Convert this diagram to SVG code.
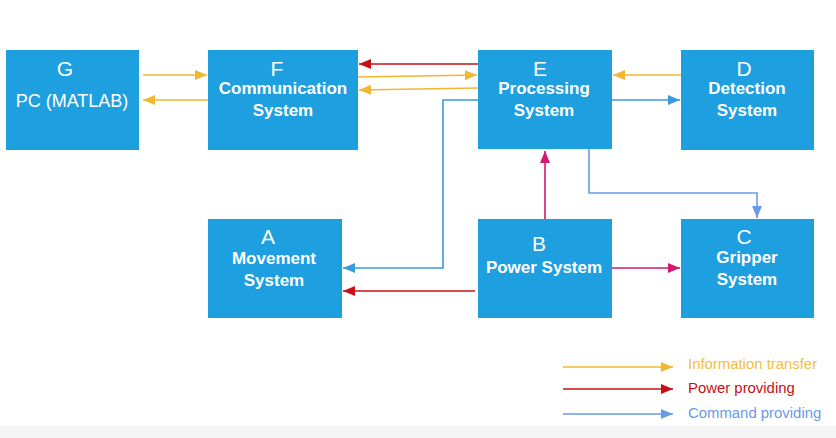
<svg xmlns="http://www.w3.org/2000/svg" width="836" height="438" viewBox="0 0 836 438">
<style>
.box{fill:#1e9fe0}
.t{fill:#fff;font-family:"Liberation Sans",Arial,sans-serif;text-anchor:middle}
.L{font-size:21px}
.n{font-size:17px;font-weight:bold}
.r{font-size:18px}
.c{fill:none;stroke-width:1.6}
.y{stroke:#f2b630}
.rd{stroke:#c80f14}
.m{stroke:#d4176f}
.b{stroke:#3b9ad8}
.lb{stroke:#6a9be6}
.leg{font-family:"Liberation Sans",Arial,sans-serif;font-size:14.9px}
</style>
<defs>
<marker id="ay" markerUnits="userSpaceOnUse" markerWidth="12" markerHeight="10" refX="12" refY="5" orient="auto"><path d="M0,0L12,5L0,10z" fill="#f2b630"/></marker>
<marker id="ar" markerUnits="userSpaceOnUse" markerWidth="12" markerHeight="10" refX="12" refY="5" orient="auto"><path d="M0,0L12,5L0,10z" fill="#c80f14"/></marker>
<marker id="am" markerUnits="userSpaceOnUse" markerWidth="12" markerHeight="10" refX="12" refY="5" orient="auto"><path d="M0,0L12,5L0,10z" fill="#d4176f"/></marker>
<marker id="ab" markerUnits="userSpaceOnUse" markerWidth="12" markerHeight="10" refX="12" refY="5" orient="auto"><path d="M0,0L12,5L0,10z" fill="#3b9ad8"/></marker>
<marker id="alb" markerUnits="userSpaceOnUse" markerWidth="12" markerHeight="10" refX="12" refY="5" orient="auto"><path d="M0,0L12,5L0,10z" fill="#6a9be6"/></marker>
</defs>
<rect x="0" y="0" width="836" height="438" fill="#fff"/>
<rect x="0" y="426" width="836" height="12" fill="#f5f5f5"/>

<g id="nodeG"><rect class="box" x="6" y="50" width="133" height="100"/>
<text class="t L" x="65" y="76">G</text><text class="t r" x="72" y="107">PC (MATLAB)</text></g>
<g id="nodeF"><rect class="box" x="208" y="50" width="150" height="100"/>
<text class="t L" x="277" y="76">F</text><text class="t n" x="283" y="94">Communication</text><text class="t n" x="283" y="116">System</text></g>
<g id="nodeE"><rect class="box" x="478" y="50" width="134" height="99"/>
<text class="t L" x="540" y="76">E</text><text class="t n" x="544" y="94">Processing</text><text class="t n" x="544" y="116">System</text></g>
<g id="nodeD"><rect class="box" x="681" y="50" width="133" height="100"/>
<text class="t L" x="744" y="76">D</text><text class="t n" x="747" y="94">Detection</text><text class="t n" x="747" y="116">System</text></g>
<g id="nodeA"><rect class="box" x="208" y="219" width="134" height="99"/>
<text class="t L" x="268" y="244">A</text><text class="t n" x="274" y="264">Movement</text><text class="t n" x="274" y="286">System</text></g>
<g id="nodeB"><rect class="box" x="478" y="219" width="134" height="99"/>
<text class="t L" x="539" y="251">B</text><text class="t n" x="544" y="273">Power System</text></g>
<g id="nodeC"><rect class="box" x="681" y="219" width="133" height="99"/>
<text class="t L" x="744" y="244">C</text><text class="t n" x="747" y="263">Gripper</text><text class="t n" x="747" y="285">System</text></g>

<g id="connectors">
<path class="c y" d="M143,75H207" marker-end="url(#ay)"/>
<path class="c y" d="M208,100H143" marker-end="url(#ay)"/>
<path class="c rd" d="M478,64H359" marker-end="url(#ar)"/>
<path class="c y" d="M358,77L477,75" marker-end="url(#ay)"/>
<path class="c y" d="M478,88L359,90" marker-end="url(#ay)"/>
<path class="c b" d="M478,100H443V268H343" marker-end="url(#ab)"/>
<path class="c y" d="M681,75H613" marker-end="url(#ay)"/>
<path class="c b" d="M612,100H680" marker-end="url(#ab)"/>
<path class="c lb" d="M589,149V193H757V218" marker-end="url(#alb)"/>
<path class="c m" d="M545,219V151" marker-end="url(#am)"/>
<path class="c m" d="M612,268H680" marker-end="url(#am)"/>
<path class="c rd" d="M475,291H343" marker-end="url(#ar)"/>
</g>

<g id="legend">
<path class="c y" d="M563,367H673" marker-end="url(#ay)"/>
<path class="c rd" d="M563,389H673" marker-end="url(#ar)"/>
<path class="c lb" d="M563,414H673" marker-end="url(#alb)"/>
<text class="leg" x="688" y="369" fill="#f0c040">Information transfer</text>
<text class="leg" x="688" y="393" fill="#c80f14">Power providing</text>
<text class="leg" x="688" y="418" fill="#6a9be6">Command providing</text>
</g>
</svg>
